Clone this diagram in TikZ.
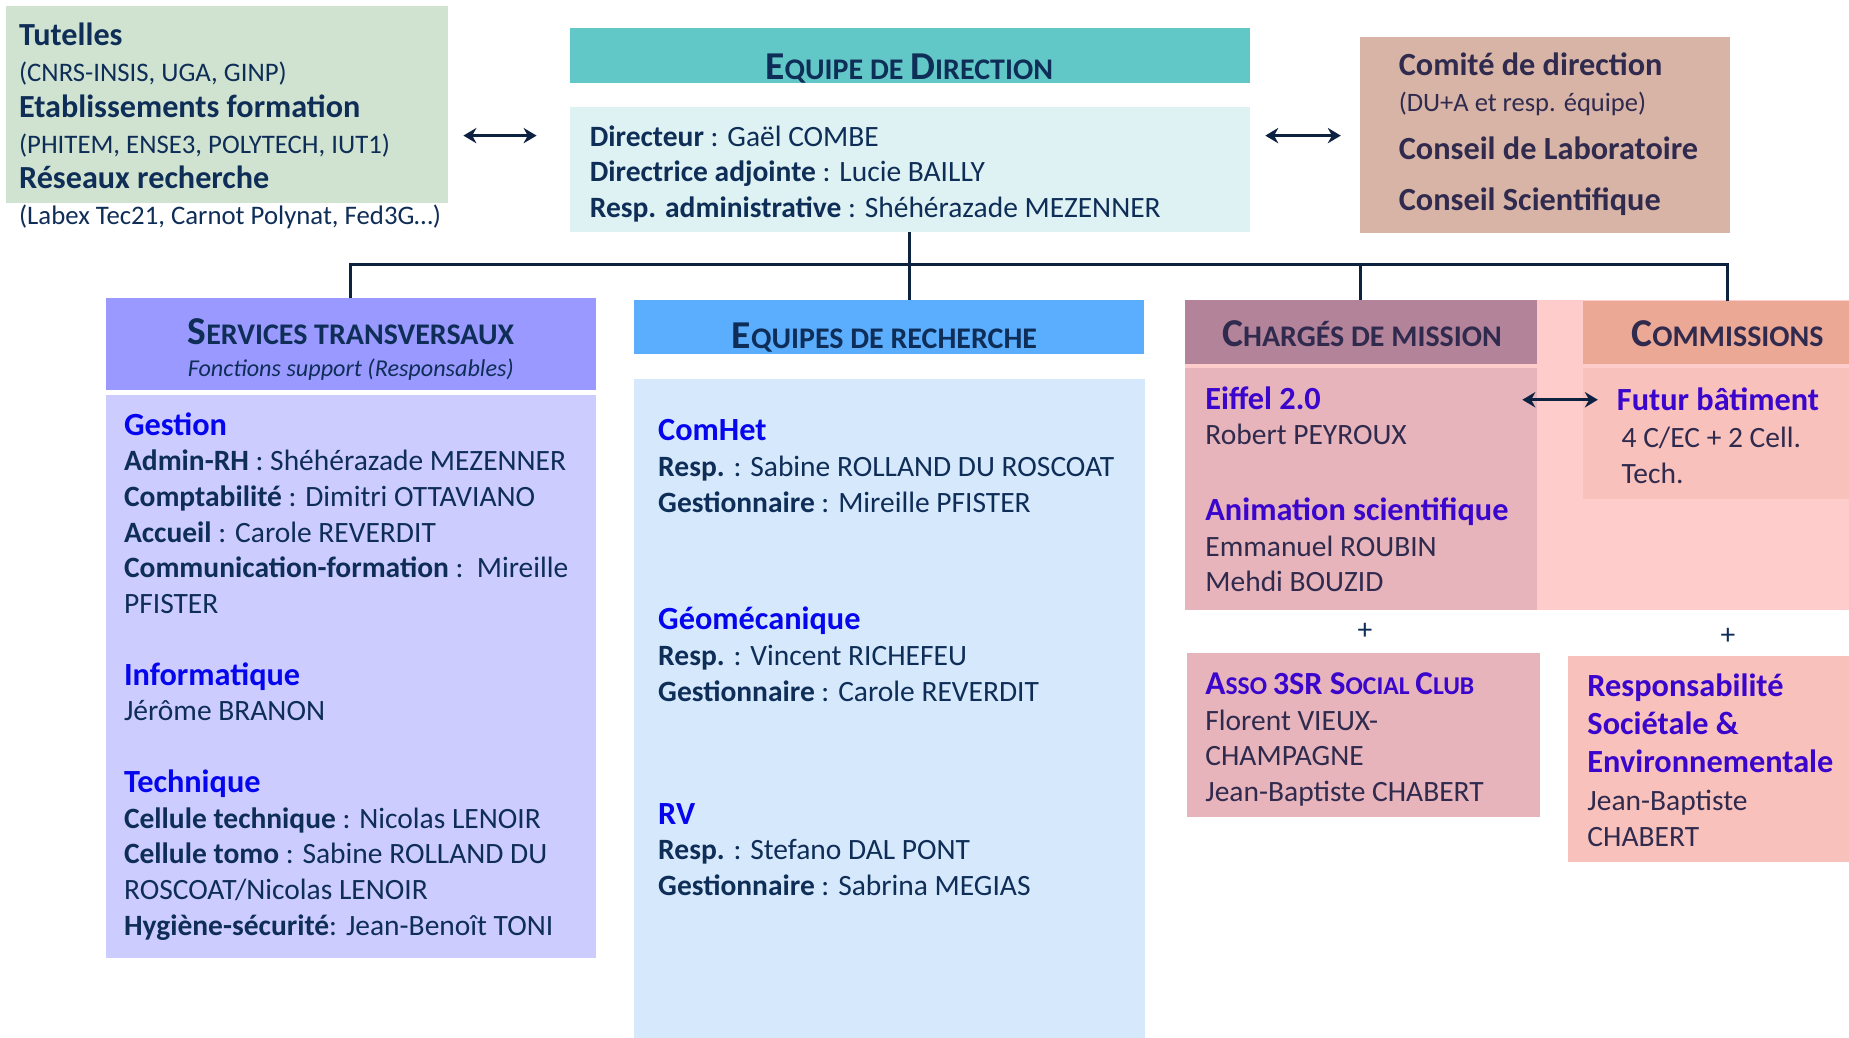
\documentclass[tikz,border=0pt]{standalone}
\usepackage{fontspec}
\setmainfont{Carlito}
\usetikzlibrary{arrows.meta}

\definecolor{navy}{HTML}{0E2D57}
\definecolor{plum}{HTML}{2F2A4E}
\definecolor{hblue}{HTML}{0505EE}
\definecolor{hviolet}{HTML}{3A05CC}
\definecolor{linec}{HTML}{0D2240}
\definecolor{sage}{HTML}{D0E3D0}
\definecolor{dirhead}{HTML}{62C7C7}
\definecolor{dirbody}{HTML}{DEF2F3}
\definecolor{comitebg}{HTML}{D8B4A6}
\definecolor{sthead}{HTML}{9999FF}
\definecolor{stbody}{HTML}{CCCCFF}
\definecolor{erhead}{HTML}{5BADFE}
\definecolor{erbody}{HTML}{D5E8FC}
\definecolor{pinkbg}{HTML}{FFCCCC}
\definecolor{cmhead}{HTML}{B38399}
\definecolor{cmbody}{HTML}{E6B4BA}
\definecolor{comhead}{HTML}{EBA895}
\definecolor{combody}{HTML}{F8C1BC}

\newcommand{\bodyfont}{\fontsize{25}{30.3}\selectfont}
\newcommand{\subfont}{\fontsize{22.7}{30.3}\selectfont}
\newcommand{\titlefont}{\fontsize{27.3}{30.3}\selectfont\bfseries}
\newcommand{\bluefont}{\fontsize{27.4}{30.3}\selectfont\bfseries}
\newcommand{\sect}[1]{{\bluefont\color{hblue}#1}}
\newcommand{\sectv}[1]{{\bluefont\color{hviolet}#1}}
% fake small caps
\newcommand{\hcap}[2]{{\fontsize{33.5}{33}\selectfont #1}{\fontsize{25.4}{33}\selectfont #2}}
\newcommand{\acap}[2]{{\fontsize{28.2}{30}\selectfont #1}{\fontsize{21.7}{30}\selectfont #2}}

\begin{document}
\begin{tikzpicture}[x=1pt,y=-1pt,
  box/.style={anchor=north west, inner sep=0pt, outer sep=0pt},
  txt/.style={anchor=north west, inner sep=0pt, align=left, font=\bodyfont, text=navy},
  head/.style={anchor=base, inner sep=0pt, font=\bfseries, text=navy},
  tree/.style={draw=linec, line width=2.4pt},
  biarrow/.style={draw=linec, line width=2.2pt, {Stealth[length=11pt,width=13pt]}-{Stealth[length=11pt,width=13pt]}}]
\useasboundingbox (0,0) rectangle (1568,880);

% top row
\node[box, fill=sage, minimum width=375pt, minimum height=167pt] (tut) at (5,5) {};
\node[box, fill=dirhead, minimum width=577pt, minimum height=46pt] (dirh) at (483,24) {};
\node[box, fill=dirbody, minimum width=577pt, minimum height=106pt] (dir) at (483,91) {};
\node[box, fill=comitebg, minimum width=314pt, minimum height=167pt] (comite) at (1153,31) {};

% second row
\node[box, fill=sthead, minimum width=415pt, minimum height=78pt] (sth) at (90,253) {};
\node[box, fill=stbody, minimum width=415pt, minimum height=477pt] (st) at (90,335) {};
\node[box, fill=erhead, minimum width=432pt, minimum height=46pt] (erh) at (538,254) {};
\node[box, fill=erbody, minimum width=433pt, minimum height=570pt] (er) at (538,321) {};
\node[box, fill=pinkbg, minimum width=600pt, minimum height=263pt] (pink) at (1005,254) {};
\node[box, fill=cmhead, minimum width=298pt, minimum height=55pt] (cmh) at (1005,254) {};
\node[box, fill=cmbody, minimum width=298pt, minimum height=205pt] (cm) at (1005,312) {};
\node[box, fill=comhead, minimum width=246pt, minimum height=54pt] (comh) at (1342,255) {};
\node[box, fill=combody, minimum width=246pt, minimum height=111pt] (com) at (1342,312) {};
\node[box, fill=cmbody, minimum width=299pt, minimum height=139pt] (asso) at (1007,554) {};
\node[box, fill=combody, minimum width=260pt, minimum height=175pt] (rse) at (1330,556) {};

% texts
\node[txt] (tutt) at (16,17.5) {\strut{\titlefont Tutelles}\\
  {\subfont (CNRS-INSIS, UGA, GINP)}\\
  {\titlefont Etablissements formation}\\
  {\subfont (PHITEM, ENSE3, POLYTECH, IUT1)}\\
  {\titlefont Réseaux recherche}\\
  {\subfont (Labex Tec21, Carnot Polynat, Fed3G…)}};
\node[head] (dirht) at (771,67) {\hcap{E}{QUIPE DE }\hcap{D}{IRECTION}};
\node[txt] (dirt) at (500,102.5) {\strut\textbf{Directeur} : Gaël COMBE\\
  \textbf{Directrice adjointe} : Lucie BAILLY\\
  \textbf{Resp. administrative} : Shéhérazade MEZENNER};
\node[txt, text=plum] (comitet) at (1186,42.5) {\strut{\bluefont Comité de direction}\\
  {\fontsize{22.5}{30.3}\selectfont (DU+A et resp. équipe)}\\[11pt]
  {\bluefont Conseil de Laboratoire}\\[13pt]
  {\bluefont Conseil Scientifique}};

\node[head] (stht) at (297.5,292.5) {\hcap{S}{ERVICES TRANSVERSAUX}};
\node[head, font=\fontsize{20.5}{24}\selectfont\itshape] (sths) at (297.5,319) {Fonctions support (Responsables)};
\node[txt] (stt) at (105,347.5) {\strut\sect{Gestion}\\
  \textbf{Admin-RH} : Shéhérazade MEZENNER\\
  \textbf{Comptabilité} : Dimitri OTTAVIANO\\
  \textbf{Accueil} : Carole REVERDIT\\
  \textbf{Communication-formation} :\ \ Mireille\\
  PFISTER\\[30.3pt]
  \sect{Informatique}\\
  Jérôme BRANON\\[30.3pt]
  \sect{Technique}\\
  \textbf{Cellule technique} : Nicolas LENOIR\\
  \textbf{Cellule tomo} : Sabine ROLLAND DU\\
  ROSCOAT/Nicolas LENOIR\\
  \textbf{Hygiène-sécurité}: Jean-Benoît TONI};

\node[head] (erht) at (750,295.5) {\hcap{E}{QUIPES DE RECHERCHE}};
\node[txt] (er1) at (558,352.5) {\strut\sect{ComHet}\\
  \textbf{Resp.} : Sabine ROLLAND DU ROSCOAT\\
  \textbf{Gestionnaire} : Mireille PFISTER};
\node[txt] (er2) at (558,512.5) {\strut\sect{Géomécanique}\\
  \textbf{Resp.} : Vincent RICHEFEU\\
  \textbf{Gestionnaire} : Carole REVERDIT};
\node[txt] (er3) at (558,677.5) {\strut\sect{RV}\\
  \textbf{Resp.} : Stefano DAL PONT\\
  \textbf{Gestionnaire} : Sabrina MEGIAS};

\node[head, text=plum] (cmht) at (1155,293.5) {\hcap{C}{HARGÉS DE MISSION}};
\node[head, text=plum] (comht) at (1465,293.5) {\hcap{C}{OMMISSIONS}};
\node[txt, text=plum] (cmt) at (1022,325.5) {\strut\sectv{Eiffel 2.0}\\
  Robert PEYROUX\\[33.7pt]
  \sectv{Animation scientifique}\\
  Emmanuel ROUBIN\\
  Mehdi BOUZID};
\node[txt, text=plum] (comt) at (1371,326.5) {\strut\sectv{Futur bâtiment}\\[1.7pt]
  \hspace{4pt}4 C/EC + 2 Cell.\\
  \hspace{4pt}Tech.};
\node[txt] (plusa) at (1151,528) {+};
\node[txt] (plusb) at (1459,533) {+};
\node[txt, text=plum] (assot) at (1022,567.5) {\strut{\bluefont\color{hviolet}\acap{A}{SSO }3SR \acap{S}{OCIAL }\acap{C}{LUB}}\\
  Florent VIEUX-\\
  CHAMPAGNE\\
  Jean-Baptiste CHABERT};
\node[txt, text=plum] (rset) at (1346,569.5) {\strut\sectv{Responsabilité}\\[2pt]
  \sectv{Sociétale \&}\\[2pt]
  \sectv{Environnementale}\\[1.7pt]
  Jean-Baptiste\\
  CHABERT};

% connectors
\draw[biarrow, shorten <=13pt, shorten >=28pt] (tut.east |- 0,115) -- (dir.west |- 0,115);
\draw[biarrow, shorten <=13pt, shorten >=16pt] (dir.east |- 0,115) -- (comite.west |- 0,115);
\draw[biarrow, shorten <=-12pt, shorten >=-13pt] (cm.east |- 0,339) -- (com.west |- 0,339);
\draw[tree] (dir.south) -- (dir.south |- erh.north);
\draw[tree] (sth.north) |- (comh.north |- 0,224) -- (comh.north);
\draw[tree] (cmh.north) -- (cmh.north |- 0,224);
\end{tikzpicture}
\end{document}
